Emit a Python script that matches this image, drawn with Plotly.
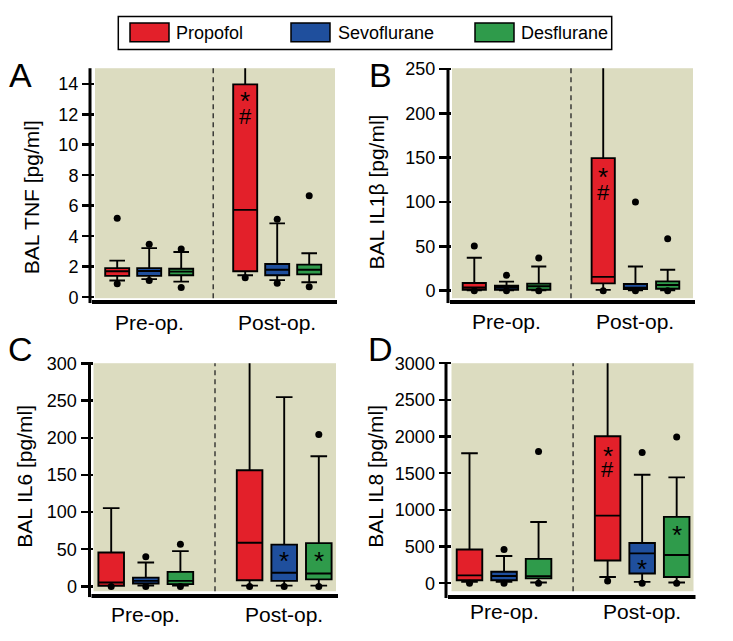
import plotly.graph_objects as go

W, H = 733, 641
FONT = "Liberation Sans, Arial, sans-serif"

# ---------------- data ----------------
positions = [1, 2, 3, 5, 6, 7]          # Pre-op: 1-3, Post-op: 5-7
drugs = ["Propofol", "Sevoflurane", "Desflurane"]
colors = ["#e3202a", "#1f4f9d", "#2f9b4b"]
group_labels = ["Pre-op.", "Post-op."]
group_pos = [2, 6]

# Panel A: BAL TNF [pg/ml]
tnf_q1 = [1.40, 1.40, 1.44, 1.70, 1.44, 1.50]
tnf_median = [1.70, 1.72, 1.68, 5.73, 1.80, 1.80]
tnf_q3 = [1.91, 1.91, 1.87, 13.96, 2.18, 2.14]
tnf_lower = [1.10, 1.19, 1.02, 1.44, 1.12, 0.98]
tnf_upper = [2.40, 3.22, 2.97, 15.5, 4.84, 2.88]
tnf_out_x = [1, 1, 2, 2, 3, 3, 5, 6, 6, 7, 7]
tnf_out_y = [5.18, 0.89, 3.48, 1.10, 3.16, 0.64, 1.27, 5.11, 0.91, 6.66, 0.68]
tnf_ticks = [0, 2, 4, 6, 8, 10, 12, 14]

# Panel B: BAL IL1beta [pg/ml]
il1b_q1 = [1.1, 1.1, 1.1, 8.3, 1.8, 2.2]
il1b_median = [3.6, 3.6, 5.1, 15.6, 3.5, 6.5]
il1b_q3 = [8.7, 5.8, 8.0, 149.4, 7.6, 10.5]
il1b_lower = [0.5, 0.5, 0.5, 1.0, 0.5, 0.5]
il1b_upper = [37.2, 10.2, 27.3, 260.0, 27.3, 23.6]
il1b_out_x = [1, 1, 2, 2, 3, 3, 5, 6, 6, 7, 7]
il1b_out_y = [50.3, 0, 17.5, 0, 36.8, 0, 0, 99.9, 0, 58.7, 0]
il1b_ticks = [0, 50, 100, 150, 200, 250]

# Panel C: BAL IL6 [pg/ml]
il6_q1 = [0.9, 3.9, 3.0, 8.2, 7.4, 9.5]
il6_median = [5.2, 7.4, 7.4, 58.8, 18.3, 17.4]
il6_q3 = [45.7, 11.8, 19.6, 156.3, 56.2, 58.3]
il6_lower = [0.9, 1.0, 1.0, 1.0, 1.0, 1.0]
il6_upper = [105.4, 32.2, 47.4, 320.0, 254.7, 175.1]
il6_out_x = [1, 2, 2, 3, 3, 5, 6, 7, 7]
il6_out_y = [0, 40.0, 0, 56.6, 0, 0, 0, 204.5, 0]
il6_ticks = [0, 50, 100, 150, 200, 250, 300]

# Panel D: BAL IL8 [pg/ml]
il8_q1 = [40, 40, 66, 309, 132, 84]
il8_median = [106, 98, 97, 922, 406, 384]
il8_q3 = [459, 155, 331, 2004, 548, 905]
il8_lower = [18, 18, 10, 84, 18, 9]
il8_upper = [1773, 371, 834, 3200, 1478, 1443]
il8_out_x = [1, 2, 2, 3, 3, 5, 6, 6, 7, 7]
il8_out_y = [0, 459, 0, 1796, 0, 31, 1782, 0, 1994, 0]
il8_ticks = [0, 500, 1000, 1500, 2000, 2500, 3000]

# significance marks: (text, x position, y value)
tnf_marks = [("*", 5, 13.24), ("#", 5, 11.84)]
il1b_marks = [("*", 5, 134.8), ("#", 5, 110.4)]
il6_marks = [("*", 6, 42.2), ("*", 7, 42.2)]
il8_marks = [("*", 5, 1818), ("#", 5, 1554), ("*", 6, 274), ("*", 7, 737)]

# ---------------- layout geometry (pixels) ----------------
panels = [
    dict(letter="A", title="BAL TNF [pg/ml]", q1=tnf_q1, med=tnf_median, q3=tnf_q3, lo=tnf_lower, hi=tnf_upper,
         ox=tnf_out_x, oy=tnf_out_y, ticks=tnf_ticks, marks=tnf_marks,
         L=95, R=335, T=60, B=297, p1=117.2, s=32.0, zero=296.0, k=15.714, bw=0.75,
         yline=90, xline=301, letter_xy=(20, 67), title_xy=(31, 193), lab_y=322),
    dict(letter="B", title="BAL IL1β [pg/ml]", q1=il1b_q1, med=il1b_median, q3=il1b_q3, lo=il1b_lower, hi=il1b_upper,
         ox=il1b_out_x, oy=il1b_out_y, ticks=il1b_ticks, marks=il1b_marks,
         L=452, R=693, T=60, B=297, p1=474.3, s=32.23, zero=289.3, k=0.9144, bw=0.72,
         yline=448, xline=301, letter_xy=(380, 67), title_xy=(376, 188), lab_y=321),
    dict(letter="C", title="BAL IL6 [pg/ml]", q1=il6_q1, med=il6_median, q3=il6_q3, lo=il6_lower, hi=il6_upper,
         ox=il6_out_x, oy=il6_out_y, ticks=il6_ticks, marks=il6_marks,
         L=93.5, R=336, T=364, B=599, p1=111.2, s=34.6, zero=594.0, k=0.7657, bw=0.74,
         yline=89.5, xline=604, letter_xy=(20, 349), title_xy=(25, 481), lab_y=623),
    dict(letter="D", title="BAL IL8 [pg/ml]", q1=il8_q1, med=il8_median, q3=il8_q3, lo=il8_lower, hi=il8_upper,
         ox=il8_out_x, oy=il8_out_y, ticks=il8_ticks, marks=il8_marks,
         L=451.5, R=693.5, T=364, B=599, p1=469.5, s=34.53, zero=590.7, k=0.07557, bw=0.74,
         yline=446, xline=605, letter_xy=(380, 349), title_xy=(376, 481), lab_y=620),
]


def fx(p):
    return p / W


def fy(p):
    return 1 - p / H


fig = go.Figure()
shapes = []
annotations = []
layout_axes = {}

for n, P in enumerate(panels):
    i = n + 1
    xa = "x" if i == 1 else f"x{i}"
    ya = "y" if i == 1 else f"y{i}"
    xkey = "xaxis" if i == 1 else f"xaxis{i}"
    ykey = "yaxis" if i == 1 else f"yaxis{i}"

    xr = [1 + (P["L"] - P["p1"]) / P["s"], 1 + (P["R"] - P["p1"]) / P["s"]]
    yr = [(P["zero"] - P["B"]) / P["k"], (P["zero"] - P["T"]) / P["k"]]

    layout_axes[xkey] = dict(domain=[fx(P["L"]), fx(P["R"])], range=xr, anchor=ya,
                             showgrid=False, zeroline=False, showticklabels=False,
                             ticks="", showline=False, fixedrange=True)
    layout_axes[ykey] = dict(domain=[fy(P["B"]), fy(P["T"])], range=yr, anchor=xa,
                             showgrid=False, zeroline=False, showline=False,
                             tickvals=P["ticks"], ticks="outside", ticklen=12, tickwidth=2.5,
                             tickcolor="black", tickfont=dict(family=FONT, size=18, color="black"),
                             fixedrange=True)

    for d in range(3):
        idx = [d, d + 3]
        fig.add_trace(go.Box(
            x=[positions[j] for j in idx],
            q1=[P["q1"][j] for j in idx],
            median=[P["med"][j] for j in idx],
            q3=[P["q3"][j] for j in idx],
            lowerfence=[P["lo"][j] for j in idx],
            upperfence=[P["hi"][j] for j in idx],
            width=P["bw"], whiskerwidth=0.65,
            fillcolor=colors[d], line=dict(color="black", width=1.9),
            boxpoints=False, name=drugs[d], showlegend=False,
            xaxis=xa, yaxis=ya, hoverinfo="skip"))

    fig.add_trace(go.Scatter(x=P["ox"], y=P["oy"], mode="markers",
                             marker=dict(color="black", size=7),
                             showlegend=False, xaxis=xa, yaxis=ya, hoverinfo="skip"))

    # dashed separator between pre and post
    shapes.append(dict(type="line", xref=xa, yref=f"{ya} domain", x0=4, x1=4, y0=0, y1=1,
                       line=dict(color="#222", width=1.3, dash="5px,4px")))
    # axis lines (offset from the shaded area)
    shapes.append(dict(type="line", xref="paper", yref="paper",
                       x0=fx(P["yline"]), x1=fx(P["yline"]), y0=fy(P["xline"] + 1), y1=fy(P["T"]),
                       line=dict(color="black", width=3)))
    shapes.append(dict(type="line", xref="paper", yref="paper",
                       x0=fx(P["yline"] + 2), x1=fx(P["R"] + 2), y0=fy(P["xline"]), y1=fy(P["xline"]),
                       line=dict(color="black", width=4)))

    # significance marks
    for txt, xp, yv in P["marks"]:
        annotations.append(dict(text=txt, x=xp, y=yv, xref=xa, yref=ya, showarrow=False,
                                font=dict(family=FONT, size=26 if txt == "*" else 22, color="black"),
                                yshift=-6 if txt == "*" else 0))

    # group labels
    for lab, gp in zip(group_labels, group_pos):
        annotations.append(dict(text=lab, x=gp, xref=xa, y=fy(P["lab_y"]), yref="paper",
                                showarrow=False, xanchor="center", yanchor="middle",
                                font=dict(family=FONT, size=21, color="black")))

    # y title
    tx, ty = P["title_xy"]
    annotations.append(dict(text=P["title"], x=fx(tx), y=fy(ty), xref="paper", yref="paper",
                            showarrow=False, textangle=-90, xanchor="center", yanchor="middle",
                            font=dict(family=FONT, size=21, color="black")))
    # panel letter
    lx, ly = P["letter_xy"]
    annotations.append(dict(text=P["letter"], x=fx(lx), y=fy(ly), xref="paper", yref="paper",
                            showarrow=False, xanchor="center", yanchor="middle",
                            font=dict(family=FONT, size=34, color="black")))

# ---------------- legend (drawn) ----------------
shapes.append(dict(type="rect", xref="paper", yref="paper",
                   x0=fx(118.3), x1=fx(611.7), y0=fy(40.7), y1=fy(6.7),
                   line=dict(color="black", width=1.5), fillcolor="white"))
sw_left = [130, 291, 475]
txt_left = [174.3, 335.7, 519.3]
for d in range(3):
    shapes.append(dict(type="rect", xref="paper", yref="paper",
                       x0=fx(sw_left[d]), x1=fx(sw_left[d] + 39), y0=fy(32.7), y1=fy(13.3),
                       line=dict(color="black", width=1.5), fillcolor=colors[d]))
    annotations.append(dict(text=drugs[d], x=fx(txt_left[d]), y=fy(23.5), xref="paper", yref="paper",
                            showarrow=False, xanchor="left", yanchor="middle",
                            font=dict(family=FONT, size=18, color="black")))

fig.update_layout(
    width=W, height=H, margin=dict(l=0, r=0, t=0, b=0),
    paper_bgcolor="white", plot_bgcolor="#dcdcc0",
    boxmode="overlay", showlegend=False,
    shapes=shapes, annotations=annotations,
    **layout_axes,
)

fig.write_html("out.html", config={"displayModeBar": False, "staticPlot": True},
               post_script="document.body.style.margin='0';document.body.style.overflow='hidden';")
